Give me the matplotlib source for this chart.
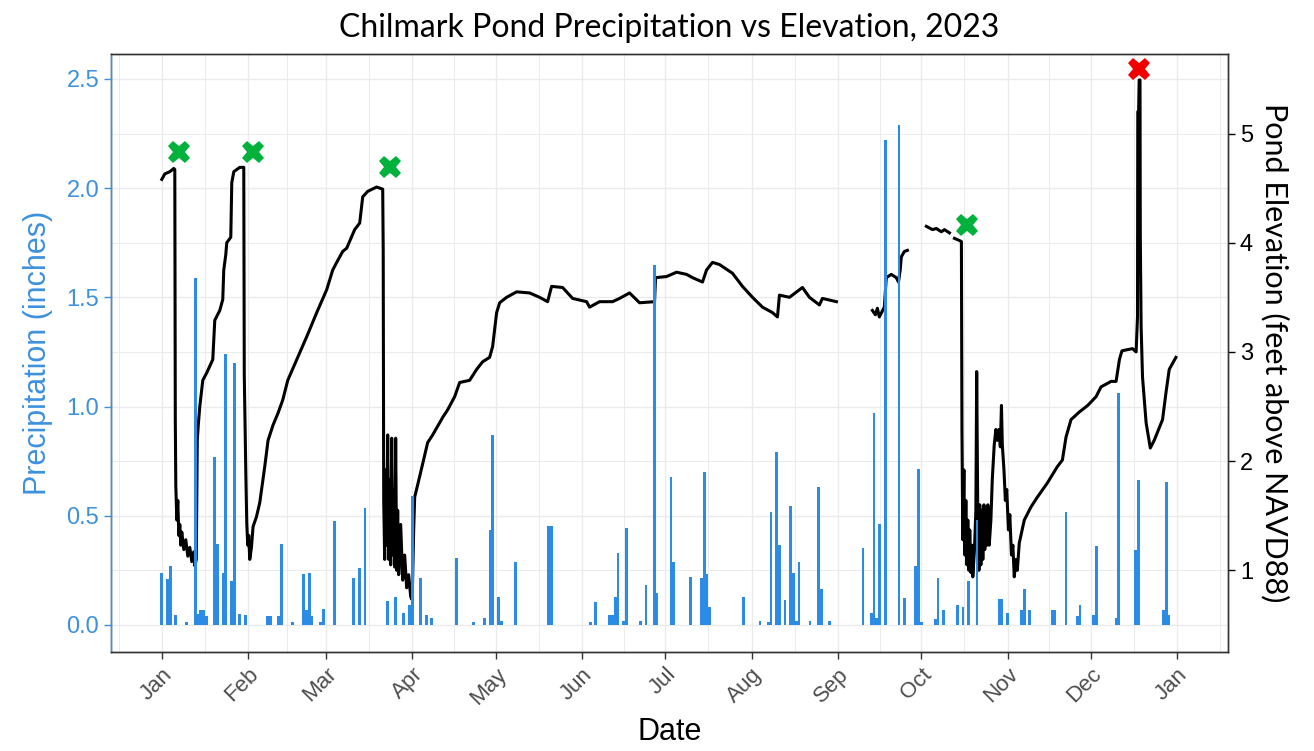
import numpy as np
import pandas as pd
import matplotlib
matplotlib.use('Agg')
import matplotlib.pyplot as plt
from matplotlib.ticker import FixedLocator

# ---- data (days since 2023-01-01) ----
precip_day = [0, 2, 3, 5, 9, 12, 13, 14, 15, 16, 19, 20, 22, 23, 25, 26, 28, 30,
              38, 39, 42, 43, 47, 51, 52, 53, 54, 57, 58, 62, 69, 71, 73,
              81, 84, 87, 89, 90, 93, 95, 97, 106, 112, 116, 118, 119, 121, 122, 127,
              139, 140, 154, 156, 161, 162, 163, 164, 166, 167, 172, 174, 177, 178,
              183, 184, 190, 194, 195, 196, 197, 209, 215, 218, 219, 221, 222, 224,
              226, 227, 228, 229, 233, 236, 237, 240, 252, 255, 256, 257, 258, 260,
              265, 267, 271, 272, 273, 278, 279, 281, 286, 288, 290, 293, 301, 302,
              304, 309, 310, 312, 320, 321, 325, 329, 330, 335, 336, 343, 344, 350,
              351, 360, 361, 362]
precip_in = [0.24, 0.21, 0.27, 0.046, 0.015, 1.59, 0.05, 0.07, 0.07, 0.04, 0.77, 0.37, 0.24, 1.24, 0.20, 1.20, 0.05, 0.046,
             0.04, 0.04, 0.04, 0.37, 0.015, 0.234, 0.069, 0.24, 0.04, 0.015, 0.072, 0.477, 0.214, 0.26, 0.534,
             0.11, 0.13, 0.053, 0.092, 0.59, 0.214, 0.046, 0.03, 0.305, 0.015, 0.034, 0.435, 0.87, 0.13, 0.02, 0.287,
             0.453, 0.453, 0.015, 0.105, 0.046, 0.046, 0.13, 0.331, 0.02, 0.443, 0.02, 0.183, 1.65, 0.145,
             0.676, 0.287, 0.221, 0.214, 0.70, 0.234, 0.084, 0.13, 0.02, 0.015, 0.519, 0.794, 0.365, 0.112,
             0.545, 0.24, 0.02, 0.287, 0.018, 0.631, 0.163, 0.02, 0.35, 0.053, 0.97, 0.03, 0.463, 2.22,
             2.29, 0.122, 0.272, 0.715, 0.015, 0.026, 0.214, 0.069, 0.09, 0.08, 0.203, 0.48, 0.12, 0.12,
             0.053, 0.069, 0.164, 0.069, 0.069, 0.07, 0.519, 0.04, 0.09, 0.045, 0.363, 0.03, 1.064, 0.343,
             0.664, 0.07, 0.656, 0.045]

nan = np.nan
elev_day = [0.0, 1.08, 2.87, 4.31, 4.67, 4.85, 5.03, 5.39, 5.75, 6.11, 6.47, 6.83, 7.18, 7.90, 8.62,
            9.34, 10.06, 10.78, 11.50, 11.86, 12.39, 12.57, 12.75, 13.11, 13.65, 14.73, 16.17, 18.32,
            19.04, 20.84, 21.91, 22.27, 22.99, 23.35, 24.79, 25.15, 25.87, 28.02, 29.46, 29.64, 30.18,
            30.54, 30.89, 31.25, 31.61, 32.22, 32.80, 34.02, 35.21, 37.0, 38.19, 39.98, 41.78, 43.47,
            45.27, 48.50, 52.09, 55.68, 59.27, 61.43, 62.87, 65.02, 66.46, 69.33, 71.13, 72.21, 74.0,
            77.24, 79.40, 79.58, 79.76, 80.11, 80.47, 80.83, 81.19, 81.55, 81.91, 82.27, 82.63, 82.99,
            83.34, 83.70, 84.06, 84.42, 84.78, 85.14, 85.86, 86.58, 87.29, 88.01, 88.73, 89.45, 89.99,
            90.53, 90.89, 92.69, 95.56, 97.36, 100.95, 102.75, 105.26, 107.06, 110.65, 113.16, 115.32,
            117.83, 118.91, 120.35, 121.43, 123.94, 127.53, 132.20, 135.80, 138.67, 140.10, 144.06,
            147.65, 152.68, 153.76, 157.35, 162.02, 164.53, 168.13, 171.72, 177.11, 177.47, 181.42,
            185.01, 188.60, 190.76, 194.35, 195.79, 197.94, 200.46, 205.13, 208.72, 212.31, 215.90,
            219.49, 221.29, 222.00, 225.60, 229.19, 230.27, 232.78, 236.37, 237.45, 242.48, 249.0,
            255.4, 256.5, 257.2, 257.9, 259.7, 260.4, 262.2, 264.0, 264.8, 265.4, 265.8, 266.9, 268.0, 271.0,
            274.8, 277.0, 278.4, 280.2, 281.3, 283.1, 284.0,
            284.9, 286.7, 287.4, 287.6, 287.9, 288.3, 288.6, 289.0, 289.4, 289.7, 290.1, 290.4, 290.8,
            291.2, 291.5, 292.1, 292.6, 292.9, 293.3, 293.7, 294.0, 294.4, 294.8, 295.1, 295.5, 295.8,
            296.2, 296.6, 296.9, 297.4, 298.0, 298.5, 299.2, 299.8, 300.3, 300.9, 301.4, 301.8, 302.1,
            302.7, 303.2, 303.7, 304.3, 304.8, 305.4, 305.9, 306.4, 307.0, 307.5, 308.2, 310.0, 312.4,
            314.7, 318.3, 321.9, 323.7, 325.0, 326.8, 329.8, 332.8, 335.8, 337.6, 341.2, 343.0, 344.2,
            345.1, 348.9, 350.2, 350.7, 350.8, 351.1, 351.3, 351.6, 351.7, 352.0, 352.5, 353.8, 355.3,
            356.7, 359.7, 360.9, 362.1, 364.5]
elev_ft = [4.58, 4.63, 4.65, 4.68, 4.67, 2.38, 1.78, 1.46, 1.64, 1.32, 1.42, 1.23, 1.35, 1.19, 1.28,
           1.13, 1.21, 1.08, 1.17, 1.04, 1.10, 1.64, 2.19, 2.33, 2.50, 2.74, 2.81, 2.93,
           3.29, 3.38, 3.48, 3.75, 3.89, 4.00, 4.05, 4.55, 4.65, 4.69, 4.69, 2.79, 1.92,
           1.43, 1.23, 1.32, 1.10, 1.21, 1.40, 1.49, 1.62, 1.95, 2.19, 2.33, 2.44, 2.56,
           2.74, 2.93, 3.14, 3.36, 3.57, 3.75, 3.82, 3.92, 3.95, 4.12, 4.18, 4.42, 4.47,
           4.51, 4.49, 3.93, 1.64, 1.10, 1.92, 1.23, 2.24, 1.10, 1.83, 1.05, 2.21, 1.14,
           1.74, 1.03, 2.21, 1.00, 1.55, 0.96, 1.42, 0.91, 1.14, 0.84, 0.96, 0.76, 0.73,
           1.37, 1.67, 1.86, 2.17, 2.24, 2.40, 2.47, 2.59, 2.72, 2.74, 2.84, 2.91,
           2.95, 3.05, 3.36, 3.45, 3.50, 3.55, 3.54, 3.50, 3.46, 3.60, 3.59,
           3.49, 3.46, 3.41, 3.46, 3.46, 3.49, 3.54, 3.45, 3.46, 3.68, 3.69,
           3.73, 3.71, 3.68, 3.64, 3.75, 3.82, 3.80, 3.72, 3.60, 3.50, 3.41,
           3.36, 3.32, 3.52, 3.50, 3.57, 3.59, 3.50, 3.43, 3.49, 3.46, nan,
           3.38, 3.34, 3.40, 3.32, 3.41, 3.68, 3.71, 3.68, 3.64, 3.75, 3.87, 3.92, 3.93, nan,
           4.15, 4.12, 4.13, 4.10, 4.12, 4.09, nan,
           4.04, 4.02, 4.01, 2.29, 1.28, 1.92, 1.14, 1.64, 1.05, 1.46, 1.00, 1.37, 0.98,
           1.23, 0.94, 1.19, 1.55, 2.82, 1.46, 1.00, 1.60, 1.05, 1.55, 1.10, 1.60, 1.19,
           1.55, 1.23, 1.60, 1.23, 1.46, 1.83, 2.15, 2.29, 2.19, 2.29, 2.13, 2.51, 2.15,
           1.92, 1.64, 1.74, 1.37, 1.51, 1.14, 1.23, 0.94, 1.10, 1.00, 1.25, 1.46, 1.58,
           1.67, 1.80, 1.95, 2.01, 2.22, 2.38, 2.45, 2.51, 2.59, 2.68, 2.73, 2.73, 2.93,
           3.01, 3.03, 3.00, 3.32, 5.20, 5.20, 5.49, 5.49, 4.07, 3.23, 2.77, 2.35, 2.12,
           2.19, 2.38, 2.62, 2.84, 2.95]

open_day = [6.1, 32.7, 81.9, 289.5]      # green X
open_elev = [4.83, 4.83, 4.69, 4.16]
fail_day = [351.3]                        # red X
fail_elev = [5.59]

month_labels = ['Jan', 'Feb', 'Mar', 'Apr', 'May', 'Jun', 'Jul', 'Aug', 'Sep', 'Oct', 'Nov', 'Dec', 'Jan']

start = pd.Timestamp('2023-01-01')
months = pd.date_range('2022-12-01', '2024-02-01', freq='MS')
month_day = np.array([(m - start).days for m in months])
major_x = month_day[1:-1]
minor_x = (month_day[:-1] + month_day[1:]) / 2

blue = '#2C8BE5'
blue_txt = '#3D91DD'
grid_c = '#EBEBEB'

fig = plt.figure(figsize=(13.14, 7.51), dpi=100)
ax = fig.add_axes([0.0845, 0.1318, 0.8501, 0.7963])
ax2 = ax.twinx()
ax.set_zorder(ax2.get_zorder() + 1)
ax.patch.set_visible(False)

# grid on the lower axes (same lines ggplot draws from the precipitation scale)
ax2.set_ylim(0.252, 5.728)
ax2.set_yticks([1, 2, 3, 4, 5])
for v in [0.5, 1.5, 2.5, 3.5, 4.5, 5.5]:
    ax2.axhline(v, color=grid_c, lw=1.0, zorder=0)
for v in [1, 2, 3, 4, 5]:
    ax2.axhline(v, color=grid_c, lw=0.7, zorder=0)
for v in major_x:
    ax2.axvline(v, color=grid_c, lw=1.0, zorder=0)
for v in minor_x:
    ax2.axvline(v, color=grid_c, lw=0.7, zorder=0)

ax2.plot(elev_day, elev_ft, color='black', lw=2.2, zorder=3)
ax2.plot(open_day, open_elev, 'X', color='#00B23C', markersize=16, markeredgewidth=0, zorder=4)
ax2.plot(fail_day, fail_elev, 'X', color='#F20000', markersize=16, markeredgewidth=0, zorder=4)

ax.bar(precip_day, precip_in, width=1.0, color=blue, zorder=3)
ax.set_xlim(-18.25, 383.25)
ax.set_ylim(-0.124, 2.614)
ax.set_yticks([0.0, 0.5, 1.0, 1.5, 2.0, 2.5])
ax.set_yticklabels(['0.0', '0.5', '1.0', '1.5', '2.0', '2.5'])
ax.set_xticks(major_x)
ax.set_xticklabels(month_labels, rotation=45, ha='right', va='top', rotation_mode='anchor')
ax.xaxis.set_minor_locator(FixedLocator([]))

ax.tick_params(axis='y', colors=blue_txt, labelsize=17, length=5, width=1)
ax.tick_params(axis='x', colors='#333333', labelcolor='#4D4D4D', labelsize=16, length=5, width=1)
ax2.tick_params(axis='y', colors='black', labelsize=17, length=5, width=1)

for a in (ax, ax2):
    for s in a.spines.values():
        s.set_color('#333333')
        s.set_linewidth(1.0)
ax.spines['left'].set_color(blue_txt)

ax.set_xlabel('Date', fontsize=22, color='black', family='Liberation Sans', labelpad=6)
ax.set_ylabel('Precipitation (inches)', fontsize=22, color=blue_txt, family='Liberation Sans', labelpad=10)
ax2.set_ylabel('Pond Elevation (feet above NAVD88)', fontsize=22, color='black', family='Lato',
               rotation=270, labelpad=26)
for lab in ax.get_xticklabels() + ax.get_yticklabels() + ax2.get_yticklabels():
    lab.set_family('Liberation Sans')

ax.set_title('Chilmark Pond Precipitation vs Elevation, 2023', fontsize=23, family='Lato', pad=12)

fig.savefig('out.png', dpi=100)
